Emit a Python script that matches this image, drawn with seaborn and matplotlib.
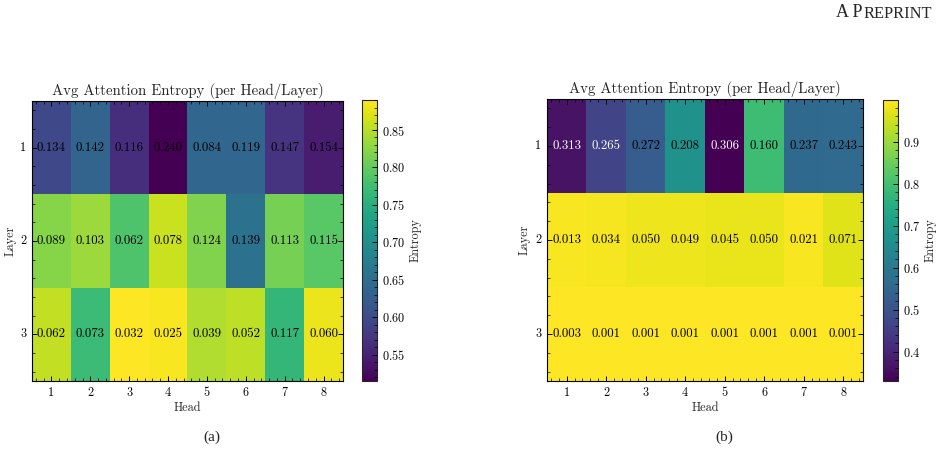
import numpy as np
import pandas as pd
import matplotlib
matplotlib.use("Agg")
import matplotlib.pyplot as plt
import seaborn as sns
from matplotlib.ticker import AutoMinorLocator

# Heads / layers
heads = [1, 2, 3, 4, 5, 6, 7, 8]
layers = [1, 2, 3]

# (a) mean entropy per head/layer (cell colour) and its spread (annotation)
entropy_a = [
    [0.597, 0.635, 0.564, 0.515, 0.639, 0.637, 0.571, 0.545],
    [0.822, 0.834, 0.785, 0.860, 0.819, 0.657, 0.811, 0.793],
    [0.856, 0.770, 0.890, 0.886, 0.845, 0.853, 0.763, 0.879],
]
std_a = [
    [0.134, 0.142, 0.116, 0.240, 0.084, 0.119, 0.147, 0.154],
    [0.089, 0.103, 0.062, 0.078, 0.124, 0.139, 0.113, 0.115],
    [0.062, 0.073, 0.032, 0.025, 0.039, 0.052, 0.117, 0.060],
]

# (b)
entropy_b = [
    [0.363, 0.464, 0.524, 0.665, 0.330, 0.792, 0.557, 0.558],
    [0.992, 0.989, 0.982, 0.982, 0.976, 0.978, 0.992, 0.966],
    [0.998, 0.999, 0.999, 0.999, 0.999, 0.999, 0.999, 0.999],
]
std_b = [
    [0.313, 0.265, 0.272, 0.208, 0.306, 0.160, 0.237, 0.243],
    [0.013, 0.034, 0.050, 0.049, 0.045, 0.050, 0.021, 0.071],
    [0.003, 0.001, 0.001, 0.001, 0.001, 0.001, 0.001, 0.001],
]

sns.set_style("white")
plt.rcParams["font.family"] = ["cmr10", "DejaVu Serif"]
plt.rcParams["axes.formatter.use_mathtext"] = True
plt.rcParams["axes.unicode_minus"] = False
# inward ticks must sit above the heatmap mesh
plt.rcParams["axes.axisbelow"] = False


def draw_panel(fig, ax_rect, cbar_rect, entropy, std):
    ax = fig.add_axes(ax_rect)
    cax = fig.add_axes(cbar_rect)
    df = pd.DataFrame(entropy, index=layers, columns=heads)
    sns.heatmap(df, ax=ax, cbar_ax=cax, cmap="viridis",
                annot=np.array(std), fmt=".3f",
                annot_kws={"fontsize": 9.2},
                cbar_kws={"label": "Entropy"})
    # dark cells (entropy below 0.5) get white text
    vals = np.array(entropy).ravel()
    for txt, v in zip(ax.texts, vals):
        txt.set_color("white" if v < 0.5 else "black")

    ax.set_title("Avg Attention Entropy (per Head/Layer)", fontsize=10.7, pad=4)
    ax.set_xlabel("Head", fontsize=8.8, labelpad=2)
    ax.set_ylabel("Layer", fontsize=8.8, labelpad=3)
    ax.set_yticklabels(layers, rotation=0)
    ax.set_axisbelow(False)
    ax.xaxis.set_minor_locator(AutoMinorLocator(5))
    ax.yaxis.set_minor_locator(AutoMinorLocator(5))
    ax.tick_params(which="both", direction="in", bottom=True, left=True,
                   top=True, right=True, labelsize=8.8, colors="black")
    ax.tick_params(which="major", length=3.5, width=0.7, pad=4)
    ax.tick_params(which="minor", length=2, width=0.5)
    for s in ax.spines.values():
        s.set_visible(True)
        s.set_linewidth(0.8)
        s.set_color("black")

    cax.set_axisbelow(False)
    cax.yaxis.set_minor_locator(AutoMinorLocator(5))
    cax.tick_params(which="both", direction="in", right=True, labelsize=8.8,
                    colors="black")
    cax.tick_params(which="major", length=3.5, width=0.7)
    cax.tick_params(which="minor", length=2, width=0.5)
    cax.yaxis.label.set_size(8.8)
    cax.yaxis.labelpad = 3
    for s in cax.spines.values():
        s.set_linewidth(0.8)
    return ax


fig = plt.figure(figsize=(9.44, 4.51), dpi=100)

draw_panel(fig, [0.0339, 0.1552, 0.3294, 0.6208], [0.3835, 0.1552, 0.0159, 0.6230],
           entropy_a, std_a)
draw_panel(fig, [0.5794, 0.1552, 0.3347, 0.6253], [0.9354, 0.1552, 0.0159, 0.6230],
           entropy_b, std_b)

# subfigure captions and page header
fig.text(212 / 944, 1 - 437 / 451, "(a)", ha="center", va="center",
         fontsize=11, family="Liberation Serif")
fig.text(724 / 944, 1 - 437 / 451, "(b)", ha="center", va="center",
         fontsize=11, family="Liberation Serif")
fig.text(862 / 944, 1 - 12.8 / 451, "A P", ha="right", va="center",
         fontsize=13, family="Liberation Serif")
fig.text(863 / 944, 1 - 13.8 / 451, "REPRINT", ha="left", va="center",
         fontsize=11.8, family="Liberation Serif")

fig.savefig("out.png", dpi=100)
